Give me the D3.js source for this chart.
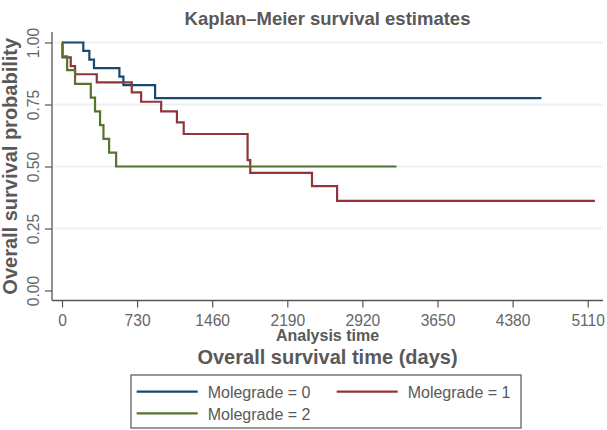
<!DOCTYPE html>
<html>
<head>
<meta charset="utf-8">
<script src="https://cdn.jsdelivr.net/npm/d3@7"></script>
<style>
  html, body { margin: 0; padding: 0; background: #fff; }
  svg { display: block; font-family: "Liberation Sans", Arial, Helvetica, sans-serif; }
</style>
</head>
<body>
<svg id="chart" width="607" height="430"></svg>
<script>
// ---- data ----
const xTicks = [0, 730, 1460, 2190, 2920, 3650, 4380, 5110];
const yTicks = [0, 0.25, 0.5, 0.75, 1];
const gridTicks = [0.25, 0.5, 0.75, 1];

const series = ["Molegrade = 0", "Molegrade = 1", "Molegrade = 2"];
const colors = ["#1a476f", "#90353b", "#55752f"];

const time0 = [0, 207, 266, 311, 558, 597, 905, 4660];
const surv0 = [1, 0.966, 0.931, 0.897, 0.862, 0.828, 0.776, 0.776];

const time1 = [0, 5, 85, 127, 338, 678, 769, 964, 1117, 1183, 1804, 1830, 2430, 2674, 5180];
const surv1 = [1, 0.940, 0.905, 0.872, 0.839, 0.799, 0.761, 0.722, 0.678, 0.631, 0.526, 0.474, 0.421, 0.361, 0.361];

const time2 = [0, 5, 50, 127, 280, 321, 370, 403, 458, 526, 3251];
const surv2 = [1, 0.944, 0.889, 0.833, 0.778, 0.722, 0.667, 0.611, 0.556, 0.5, 0.5];

const times = [time0, time1, time2];
const survs = [surv0, surv1, surv2];

// ---- layout ----
const svg = d3.select("#chart");
const plotLeft = 52, plotRight = 603, plotTop = 32, plotBottom = 300.5;
const x = d3.scaleLinear().domain([0, 5110]).range([62, 587.7]);
const y = d3.scaleLinear().domain([0, 1]).range([290.5, 42.5]);

const textCol = "#595959";
const tickCol = "#666";
const axisCol = "#555";

// gridlines
svg.append("g").selectAll("line").data(gridTicks).join("line")
  .attr("x1", plotLeft + 1).attr("x2", plotRight)
  .attr("y1", d => y(d)).attr("y2", d => y(d))
  .attr("stroke", "#eaf2f3").attr("stroke-width", 2);

// y axis
const yAxis = d3.axisLeft(y).tickValues(yTicks).tickFormat(d3.format(".2f"))
  .tickSize(7).tickPadding(0);
const gy = svg.append("g").attr("transform", `translate(${plotLeft},0)`).call(yAxis);
gy.select(".domain").remove();
gy.selectAll(".tick line").attr("stroke", axisCol).attr("stroke-width", 1.2);
gy.selectAll(".tick text")
  .attr("fill", tickCol).attr("font-size", 15.6)
  .attr("text-anchor", "middle").attr("dy", 0)
  .attr("transform", "translate(-13.5,0) rotate(-90)")
  .attr("x", 0).attr("y", 0);
svg.append("line").attr("x1", plotLeft).attr("x2", plotLeft)
  .attr("y1", plotTop).attr("y2", plotBottom)
  .attr("stroke", axisCol).attr("stroke-width", 1.3);

// x axis
const xAxis = d3.axisBottom(x).tickValues(xTicks).tickFormat(d3.format("d"))
  .tickSize(7).tickPadding(7);
const gx = svg.append("g").attr("transform", `translate(0,${plotBottom})`).call(xAxis);
gx.select(".domain").remove();
gx.selectAll(".tick line").attr("stroke", axisCol).attr("stroke-width", 1.2);
gx.selectAll(".tick text").attr("fill", tickCol).attr("font-size", 15.6);
svg.append("line").attr("x1", plotLeft).attr("x2", plotRight)
  .attr("y1", plotBottom).attr("y2", plotBottom)
  .attr("stroke", axisCol).attr("stroke-width", 1.3);

// curves
const line = d3.line().curve(d3.curveStepAfter).x(d => x(d[0])).y(d => y(d[1]));
series.forEach((name, i) => {
  const pts = times[i].map((t, j) => [t, survs[i][j]]);
  svg.append("path").datum(pts)
    .attr("d", line)
    .attr("fill", "none")
    .attr("stroke", colors[i])
    .attr("stroke-width", 2.2)
    .attr("stroke-linejoin", "miter");
});

// titles
const cx = (plotLeft + plotRight) / 2;
svg.append("text").attr("x", cx).attr("y", 25)
  .attr("text-anchor", "middle").attr("font-weight", "bold")
  .attr("font-size", 18.5).attr("fill", textCol)
  .text("Kaplan–Meier survival estimates");

svg.append("text").attr("x", cx).attr("y", 341)
  .attr("text-anchor", "middle").attr("font-weight", "bold")
  .attr("font-size", 16).attr("fill", textCol)
  .text("Analysis time");

svg.append("text").attr("x", cx).attr("y", 364)
  .attr("text-anchor", "middle").attr("font-weight", "bold")
  .attr("font-size", 20).attr("fill", textCol)
  .text("Overall survival time (days)");

svg.append("text")
  .attr("transform", `translate(16.5,${(plotTop + plotBottom) / 2}) rotate(-90)`)
  .attr("text-anchor", "middle").attr("font-weight", "bold")
  .attr("font-size", 20).attr("fill", textCol)
  .text("Overall survival probability");

// legend
const lg = svg.append("g");
lg.append("rect").attr("x", 131).attr("y", 375).attr("width", 390).attr("height", 53)
  .attr("fill", "#fff").attr("stroke", "#555").attr("stroke-width", 1.2);
const legPos = [[136.7, 391.7], [336.7, 391.7], [136.7, 413.3]];
series.forEach((name, i) => {
  const [lx, ly] = legPos[i];
  lg.append("line").attr("x1", lx).attr("x2", lx + 61).attr("y1", ly).attr("y2", ly)
    .attr("stroke", colors[i]).attr("stroke-width", 2.2);
  lg.append("text").attr("x", lx + 71).attr("y", ly + 6.3)
    .attr("font-size", 16).attr("fill", textCol).text(name);
});
</script>
</body>
</html>
